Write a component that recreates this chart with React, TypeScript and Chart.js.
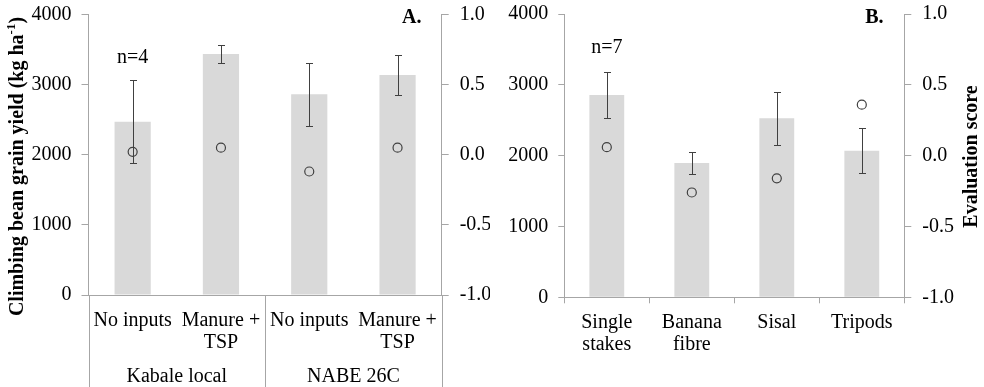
import React, { useEffect, useRef, useState } from "react";
import { Chart, registerables } from "chart.js";

Chart.register(...registerables);

// ---------------- data ----------------
const categoriesA: string[][] = [["No inputs"], ["Manure +", "TSP"], ["No inputs"], ["Manure +", "TSP"]];
const groupsA: string[] = ["Kabale local", "NABE 26C"];
const groupSizesA: number[] = [2, 2];
const yieldA: number[] = [2470, 3435, 2860, 3135];
const errorA: number[] = [594, 123, 445, 290];
const scoreA: number[] = [0.02, 0.05, -0.12, 0.05];

const categoriesB: string[][] = [["Single", "stakes"], ["Banana", "fibre"], ["Sisal"], ["Tripods"]];
const yieldB: number[] = [2856, 1896, 2527, 2070];
const errorB: number[] = [327, 158, 378, 322];
const scoreB: number[] = [0.06, -0.26, -0.16, 0.36];

const yieldTicks: number[] = [0, 1000, 2000, 3000, 4000];
const scoreTicks: number[] = [-1.0, -0.5, 0.0, 0.5, 1.0];

const panelLetters: string[] = ["A.", "B."];
const sampleSizes: string[] = ["n=4", "n=7"];
const leftTitleMain = "Climbing bean grain yield (kg ha";
const leftTitleSup = "-1";
const leftTitleEnd = ")";
const rightTitle = "Evaluation score";

// ---------------- styles ----------------
const AXIS = "#a6a6a6";
const BAR = "#d9d9d9";
const MARK = "#404040";

function detectSerif(): string {
  const c = document.createElement("canvas");
  const ctx = c.getContext("2d")!;
  const sample = "No inputs Manure 4000 Wgimlk";
  ctx.font = "40px monospace";
  const mono = ctx.measureText(sample).width;
  ctx.font = "40px sans-serif";
  const sans = ctx.measureText(sample).width;
  const candidates = ["Liberation Serif", "Times New Roman", "Tinos", "DejaVu Serif", "Noto Serif"];
  for (const cand of candidates) {
    ctx.font = `40px "${cand}", monospace`;
    const w1 = ctx.measureText(sample).width;
    ctx.font = `40px "${cand}", sans-serif`;
    const w2 = ctx.measureText(sample).width;
    if (Math.abs(w1 - mono) > 0.5 && Math.abs(w2 - sans) > 0.5) return `"${cand}"`;
  }
  return "serif";
}

type Panel = {
  categories: string[][];
  yields: number[];
  errors: number[];
  scores: number[];
  groups?: string[];
  groupSizes?: number[];
  letter: string;
  nLabel: string;
  width: number;
  leftW: number;
  rightW: number;
  bottomH: number;
  topPad: number;
  tickLen: number;
  xTicks: boolean;
  nBaseline: number;
  showLeftTitle: boolean;
  showRightTitle: boolean;
};

function makeOverlay(p: Panel, FONT: string) {
  return {
    id: "overlay",
    afterDatasetsDraw(chart: any) {
      const ctx = chart.ctx;
      const x = chart.scales.x;
      const y = chart.scales.y;
      ctx.save();
      ctx.strokeStyle = MARK;
      ctx.lineWidth = 1;
      p.yields.forEach((v, i) => {
        const px = Math.round(x.getPixelForValue(i)) + 0.5;
        const t = Math.round(y.getPixelForValue(v + p.errors[i])) + 0.5;
        const b = Math.round(y.getPixelForValue(v - p.errors[i])) + 0.5;
        ctx.beginPath();
        ctx.moveTo(px, t);
        ctx.lineTo(px, b);
        ctx.moveTo(px - 3.5, t);
        ctx.lineTo(px + 3.5, t);
        ctx.moveTo(px - 3.5, b);
        ctx.lineTo(px + 3.5, b);
        ctx.stroke();
      });
      ctx.restore();
    },
    afterDraw(chart: any) {
      const ctx = chart.ctx;
      const x = chart.scales.x;
      const area = chart.chartArea;
      const H = chart.height;
      ctx.save();
      ctx.fillStyle = "#000";
      ctx.font = `20px ${FONT}`;
      ctx.textAlign = "center";
      ctx.textBaseline = "alphabetic";
      // category labels
      p.categories.forEach((lines, i) => {
        const px = x.getPixelForValue(i);
        lines.forEach((ln, k) => {
          ctx.fillText(ln, px, area.bottom + 31 + k * 22);
        });
      });
      // groups
      if (p.groups && p.groupSizes) {
        ctx.strokeStyle = AXIS;
        ctx.lineWidth = 1;
        let start = 0;
        const bounds: number[] = [Math.round(area.left) + 0.5];
        p.groups.forEach((g, gi) => {
          const n = p.groupSizes![gi];
          const c0 = x.getPixelForValue(start);
          const c1 = x.getPixelForValue(start + n - 1);
          ctx.fillText(g, (c0 + c1) / 2, area.bottom + 87);
          start += n;
          const edge =
            start < p.categories.length
              ? (x.getPixelForValue(start - 1) + x.getPixelForValue(start)) / 2
              : area.right;
          bounds.push(Math.round(edge) + 0.5);
        });
        ctx.beginPath();
        bounds.forEach((bx) => {
          ctx.moveTo(bx, area.bottom);
          ctx.lineTo(bx, H);
        });
        ctx.stroke();
      }
      // n label
      ctx.fillText(p.nLabel, x.getPixelForValue(0), p.nBaseline);
      // panel letter
      ctx.font = `bold 20px ${FONT}`;
      ctx.fillText(p.letter, area.right - 30, 23);
      // left title
      if (p.showLeftTitle) {
        ctx.save();
        ctx.translate(0, 166.5);
        ctx.rotate(-Math.PI / 2);
        ctx.font = `bold 20px ${FONT}`;
        const w1 = ctx.measureText(leftTitleMain).width;
        const w3 = ctx.measureText(leftTitleEnd).width;
        ctx.font = `bold 13px ${FONT}`;
        const w2 = ctx.measureText(leftTitleSup).width;
        const total = w1 + w2 + w3;
        let sx = -total / 2;
        ctx.textAlign = "left";
        ctx.font = `bold 20px ${FONT}`;
        ctx.fillText(leftTitleMain, sx, 23);
        sx += w1;
        ctx.font = `bold 13px ${FONT}`;
        ctx.fillText(leftTitleSup, sx, 15);
        sx += w2;
        ctx.font = `bold 20px ${FONT}`;
        ctx.fillText(leftTitleEnd, sx, 23);
        ctx.restore();
      }
      if (p.showRightTitle) {
        ctx.save();
        ctx.translate(0, 156.5);
        ctx.rotate(-Math.PI / 2);
        ctx.font = `bold 20px ${FONT}`;
        ctx.textAlign = "center";
        ctx.fillText(rightTitle, 0, chart.width - 7.5);
        ctx.restore();
      }
      ctx.restore();
    },
  };
}

function makeConfig(p: Panel, FONT: string): any {
  const tickFont = { family: FONT, size: 20 };
  return {
    type: "bar",
    data: {
      labels: p.categories.map((c) => c.join(" ")),
      datasets: [
        {
          type: "line",
          data: p.scores,
          yAxisID: "y2",
          showLine: false,
          pointStyle: "circle",
          pointRadius: 4.5,
          pointBorderWidth: 1.2,
          pointBorderColor: MARK,
          pointBackgroundColor: "rgba(0,0,0,0)",
          order: 0,
        },
        {
          type: "bar",
          data: p.yields,
          yAxisID: "y",
          backgroundColor: BAR,
          borderWidth: 0,
          barPercentage: 0.41,
          categoryPercentage: 1.0,
          order: 1,
        },
      ],
    },
    options: {
      responsive: false,
      maintainAspectRatio: false,
      animation: false,
      events: [],
      layout: { padding: { top: p.topPad, left: 0, right: 0, bottom: 0 } },
      plugins: { legend: { display: false }, tooltip: { enabled: false } },
      scales: {
        x: {
          offset: true,
          ticks: { display: false },
          grid: {
            display: true,
            drawOnChartArea: false,
            drawTicks: p.xTicks,
            tickLength: 6,
            offset: true,
            color: AXIS,
          },
          border: { display: true, color: AXIS, width: 1 },
          afterFit: (s: any) => {
            s.height = p.bottomH;
            s.paddingLeft = 0;
            s.paddingRight = 0;
          },
        },
        y: {
          position: "left",
          min: yieldTicks[0],
          max: yieldTicks[yieldTicks.length - 1],
          ticks: {
            stepSize: yieldTicks[1] - yieldTicks[0],
            font: tickFont,
            color: "#000",
            padding: 10,
            callback: (v: any) => String(v),
          },
          grid: { drawOnChartArea: false, drawTicks: true, tickLength: p.tickLen, color: AXIS },
          border: { display: true, color: AXIS, width: 1 },
          afterFit: (s: any) => {
            s.width = p.leftW;
            s.paddingTop = 0;
            s.paddingBottom = 0;
          },
        },
        y2: {
          position: "right",
          min: scoreTicks[0],
          max: scoreTicks[scoreTicks.length - 1],
          ticks: {
            stepSize: scoreTicks[1] - scoreTicks[0],
            font: tickFont,
            color: "#000",
            padding: 11,
            callback: (v: any) => Number(v).toFixed(1),
          },
          grid: { drawOnChartArea: false, drawTicks: true, tickLength: 7, color: AXIS },
          border: { display: true, color: AXIS, width: 1 },
          afterFit: (s: any) => {
            s.width = p.rightW;
            s.paddingTop = 0;
            s.paddingBottom = 0;
          },
        },
      },
    },
    plugins: [makeOverlay(p, FONT)],
  };
}

const panelA: Panel = {
  categories: categoriesA,
  yields: yieldA,
  errors: errorA,
  scores: scoreA,
  groups: groupsA,
  groupSizes: groupSizesA,
  letter: panelLetters[0],
  nLabel: sampleSizes[0],
  width: 490,
  leftW: 88.5,
  rightW: 48.3,
  bottomH: 92,
  topPad: 14.3,
  tickLen: 7,
  xTicks: false,
  nBaseline: 63,
  showLeftTitle: true,
  showRightTitle: false,
};

const panelB: Panel = {
  categories: categoriesB,
  yields: yieldB,
  errors: errorB,
  scores: scoreB,
  letter: panelLetters[1],
  nLabel: sampleSizes[1],
  width: 494,
  leftW: 74.3,
  rightW: 79.7,
  bottomH: 89.7,
  topPad: 14,
  tickLen: 6,
  xTicks: true,
  nBaseline: 53,
  showLeftTitle: false,
  showRightTitle: true,
};

function PanelChart({ panel, left, font }: { panel: Panel; left: number; font: string }) {
  const ref = useRef<HTMLCanvasElement | null>(null);
  useEffect(() => {
    if (!ref.current) return;
    const chart = new Chart(ref.current, makeConfig(panel, font));
    return () => chart.destroy();
  }, [panel, font]);
  return (
    <canvas
      ref={ref}
      width={panel.width}
      height={387}
      style={{ position: "absolute", left, top: 0, width: panel.width, height: 387 }}
    />
  );
}

export default function App() {
  const [font, setFont] = useState<string | null>(null);
  useEffect(() => {
    setFont(detectSerif());
  }, []);
  return (
    <div
      style={{
        position: "fixed",
        left: 0,
        top: 0,
        width: 984,
        height: 387,
        background: "#fff",
        overflow: "hidden",
      }}
    >
      {font && <PanelChart panel={panelA} left={0} font={font} />}
      {font && <PanelChart panel={panelB} left={490} font={font} />}
    </div>
  );
}
